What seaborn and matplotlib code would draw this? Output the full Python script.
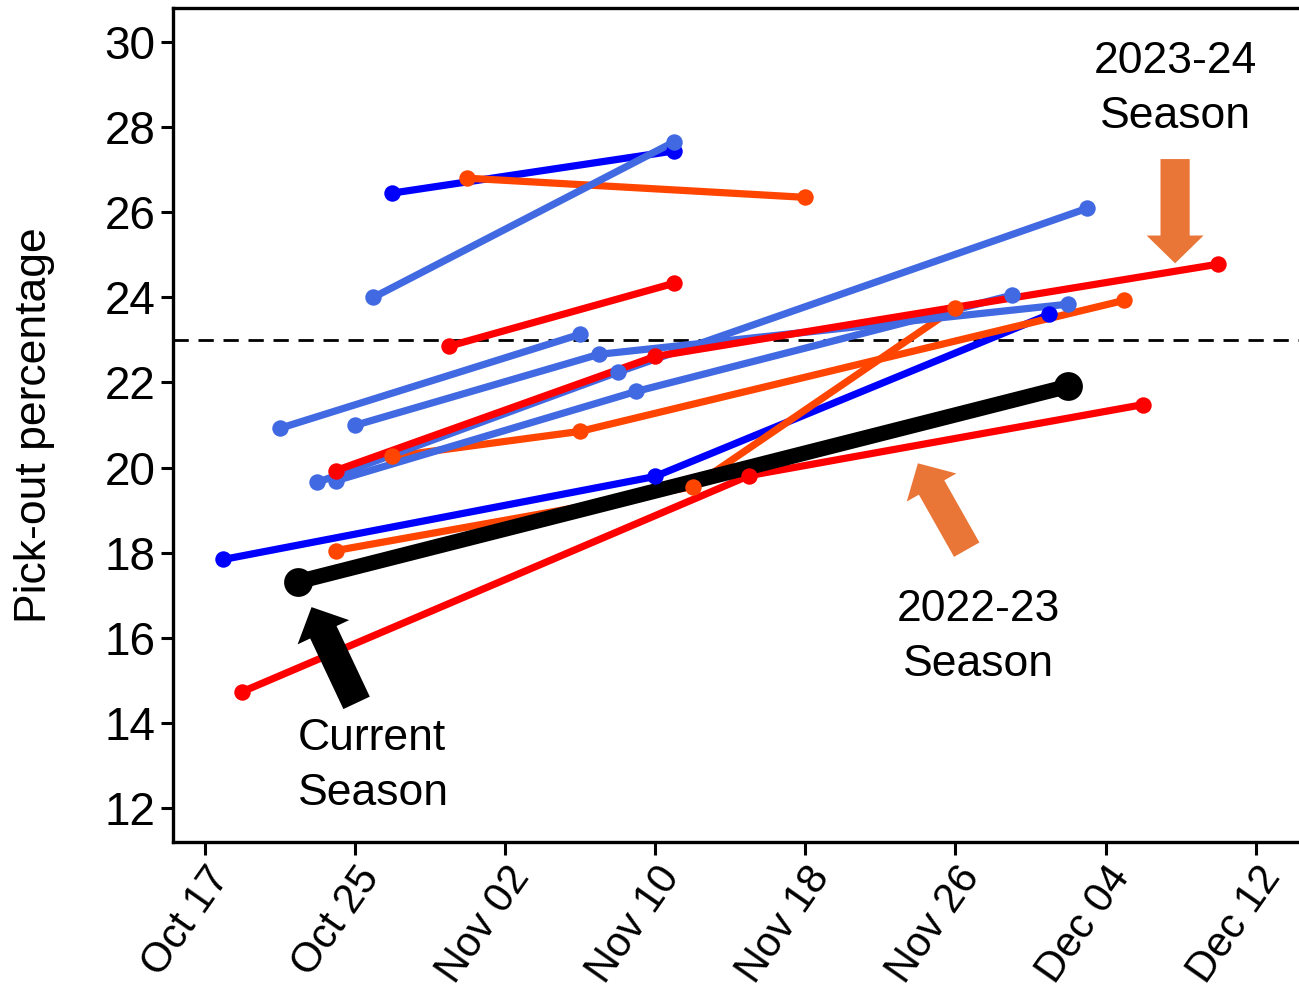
import pandas as pd
import seaborn as sns
import matplotlib.pyplot as plt
import matplotlib.dates as mdates
from matplotlib.patches import FancyArrowPatch

# season series (year is arbitrary, only month/day shown)
dark_blue_dates = [['2024-10-27', '2024-11-11'],
                   ['2024-10-18', '2024-11-10', '2024-12-01']]
dark_blue_vals = [[26.45, 27.44],
                  [17.84, 19.79, 23.60]]

orange_dates = [['2024-10-31', '2024-11-18'],
                ['2024-10-27', '2024-11-06', '2024-12-05'],
                ['2024-10-24', '2024-11-12', '2024-11-26']]
orange_vals = [[26.80, 26.35],
               [20.26, 20.85, 23.93],
               [18.05, 19.55, 23.76]]

light_blue_dates = [['2024-10-26', '2024-11-11'],
                    ['2024-10-21', '2024-11-06'],
                    ['2024-10-25', '2024-11-07', '2024-12-02'],
                    ['2024-10-23', '2024-11-08', '2024-12-03'],
                    ['2024-10-24', '2024-11-09', '2024-11-29']]
light_blue_vals = [[24.00, 27.65],
                   [20.92, 23.13],
                   [20.99, 22.66, 23.84],
                   [19.65, 22.24, 26.09],
                   [19.69, 21.79, 24.05]]

red_dates = [['2024-10-30', '2024-11-11'],
             ['2024-10-24', '2024-11-10', '2024-12-10'],
             ['2024-10-19', '2024-11-15', '2024-12-06']]
red_vals = [[22.85, 24.33],
            [19.93, 22.61, 24.78],
            [14.73, 19.81, 21.48]]

current_dates = ['2024-10-22', '2024-12-02']
current_vals = [17.32, 21.91]

threshold = 23
tick_dates = pd.date_range('2024-10-17', periods=8, freq='8D')


def to_frame(dates, vals, group):
    rows = []
    for i, (d, v) in enumerate(zip(dates, vals)):
        for dd, vv in zip(d, v):
            rows.append({'date': pd.Timestamp(dd), 'pct': vv, 'series': f'{group}_{i}'})
    return pd.DataFrame(rows)


groups = [
    ('dark_blue', dark_blue_dates, dark_blue_vals, '#0000FF'),
    ('orange', orange_dates, orange_vals, '#FF4500'),
    ('light_blue', light_blue_dates, light_blue_vals, '#4169E1'),
    ('red', red_dates, red_vals, '#FF0000'),
]
df_current = pd.DataFrame({'date': pd.to_datetime(current_dates), 'pct': current_vals})

sns.set_theme(style='ticks')
plt.rcParams['font.family'] = ['Liberation Sans', 'DejaVu Sans']
plt.rcParams['text.color'] = 'black'
plt.rcParams['axes.labelcolor'] = 'black'

fig = plt.figure(figsize=(12.99, 9.91), dpi=100)
ax = fig.add_axes([173 / 1299, 149 / 991, 1126 / 1299, 834 / 991])

ax.axhline(threshold, color='black', lw=2, ls=(0, (5.5, 3.5)), zorder=1.5)

# lines first, then points on top (ggplot-like layering)
for name, dates, vals, col in groups:
    sub = to_frame(dates, vals, name)
    sns.lineplot(data=sub, x='date', y='pct', units='series', estimator=None,
                 color=col, lw=5.2, ax=ax, zorder=2, legend=False)

sns.lineplot(data=df_current, x='date', y='pct', color='black', lw=11, ax=ax, zorder=3)

for name, dates, vals, col in groups:
    sub = to_frame(dates, vals, name)
    sns.scatterplot(data=sub, x='date', y='pct', color=col, s=140, linewidth=0,
                    ax=ax, zorder=4, legend=False)

sns.scatterplot(data=df_current, x='date', y='pct', color='black', s=430, linewidth=0,
                ax=ax, zorder=5)

base = pd.Timestamp('2024-10-17')
ax.set_xlim(base - pd.Timedelta(days=1.68), base + pd.Timedelta(days=58.3))
ax.set_ylim(11.2, 30.8)
ax.set_yticks(range(12, 31, 2))
ax.set_xticks(tick_dates)
ax.xaxis.set_major_formatter(mdates.DateFormatter('%b %d'))
ax.set_xlabel('')
ax.set_ylabel('Pick-out percentage', fontsize=32, labelpad=36)

ax.tick_params(axis='both', labelsize=33, length=9, width=2.2, color='black', labelcolor='black')
plt.setp(ax.get_xticklabels(), rotation=55, ha='right', rotation_mode='anchor', fontsize=30)
for side in ['left', 'bottom', 'top']:
    ax.spines[side].set_linewidth(2.4)
    ax.spines[side].set_color('black')
ax.spines['right'].set_visible(False)


def day(d):
    return mdates.date2num(base + pd.Timedelta(days=d))


# annotation arrows
arrow_orange = '#E97537'
for (x0, y0), (x1, y1), col in [((51.7, 27.25), (51.7, 24.8), arrow_orange),
                                 ((40.6, 18.07), (38.0, 20.1), arrow_orange),
                                 ((8.1, 14.47), (5.7, 16.72), 'black')]:
    arr = FancyArrowPatch((day(x0), y0), (day(x1), y1),
                          arrowstyle='simple,head_length=20,head_width=41,tail_width=21',
                          mutation_scale=1, color=col, lw=0, shrinkA=0, shrinkB=0, zorder=6)
    ax.add_patch(arr)

ax.text(day(51.7), 28.9, '2023-24\nSeason', fontsize=32, ha='center', va='center', linespacing=1.45)
ax.text(day(41.25), 16.02, '2022-23\nSeason', fontsize=32, ha='center', va='center', linespacing=1.45)
ax.text(day(4.97), 12.98, 'Current\nSeason', fontsize=32, ha='left', va='center', linespacing=1.45)

fig.savefig('out.png', dpi=100)
